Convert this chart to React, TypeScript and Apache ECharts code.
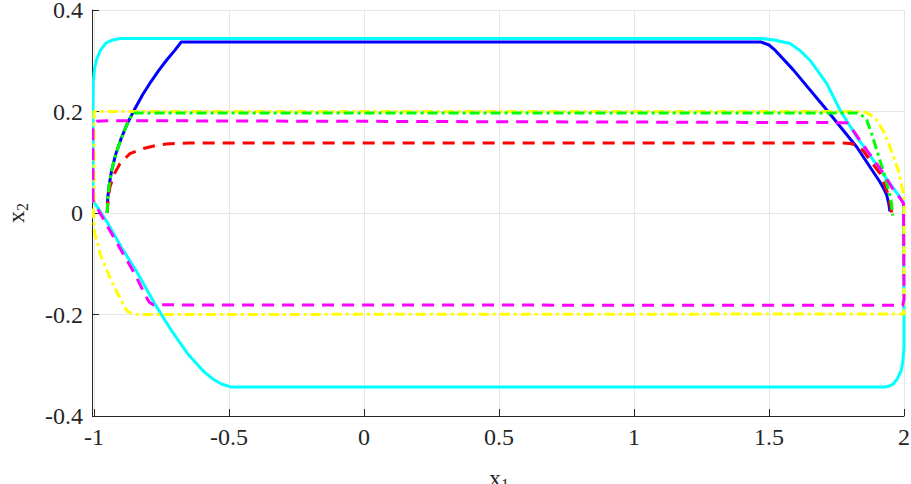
import React, { useEffect, useRef } from "react";
import * as echarts from "echarts";

const xTicks = [-1, -0.5, 0, 0.5, 1, 1.5, 2];
const yTicks = [-0.4, -0.2, 0, 0.2, 0.4];

const blueCurve: number[][] = [
  [-0.951, 0], [-0.949, 0.03], [-0.944, 0.054], [-0.935, 0.083], [-0.92, 0.115],
  [-0.9, 0.146], [-0.875, 0.178], [-0.85, 0.204], [-0.82, 0.233], [-0.79, 0.258],
  [-0.76, 0.281], [-0.73, 0.302], [-0.7, 0.321], [-0.677, 0.337], [1.47, 0.337],
  [1.5, 0.331], [1.52, 0.322], [1.59, 0.282], [1.714, 0.203], [1.825, 0.13],
  [1.911, 0.061], [1.925, 0.048], [1.936, 0.035], [1.943, 0.02], [1.948, 0.003],
];

const cyanCurve: number[][] = [
  [-1.004, 0.025], [-1.004, 0.2], [-1.003, 0.256], [-0.998, 0.285], [-0.99, 0.303],
  [-0.975, 0.322], [-0.955, 0.335], [-0.93, 0.341], [-0.904, 0.344], [1.467, 0.344],
  [1.52, 0.341], [1.578, 0.334], [1.615, 0.32], [1.652, 0.301], [1.714, 0.255],
  [1.763, 0.203], [1.825, 0.15], [1.886, 0.104], [1.948, 0.058], [1.998, 0.022],
  [2.0, -0.2], [2.0, -0.264], [1.995, -0.295], [1.99, -0.31], [1.975, -0.327],
  [1.96, -0.337], [1.94, -0.342], [1.923, -0.343], [-0.491, -0.343], [-0.528, -0.337],
  [-0.56, -0.327], [-0.59, -0.314], [-0.62, -0.297], [-0.652, -0.278], [-0.714, -0.231],
  [-0.775, -0.179], [-0.837, -0.12], [-0.899, -0.067], [-0.948, -0.021], [-1.004, 0.025],
];

const yellowCurve: number[][] = [
  [-1.0, 0.02], [-1.0, 0.2], [1.849, 0.2], [1.875, 0.194], [1.899, 0.183],
  [1.925, 0.16], [1.948, 0.13], [1.965, 0.105], [1.979, 0.084], [1.998, 0.038],
  [2.0, 0.019], [2.0, -0.199], [-0.849, -0.2], [-0.874, -0.195], [-0.89, -0.183],
  [-0.905, -0.166], [-0.925, -0.145], [-0.942, -0.126], [-0.973, -0.087], [-0.997, -0.041],
  [-1.004, 0.012],
];

const redCurve: number[][] = [
  [-0.951, 0], [-0.947, 0.03], [-0.941, 0.051], [-0.925, 0.077], [-0.904, 0.097],
  [-0.867, 0.117], [-0.817, 0.127], [-0.77, 0.133], [-0.731, 0.136], [-0.65, 0.138],
  [-0.607, 0.138], [1.763, 0.138], [1.8, 0.137], [1.825, 0.134], [1.85, 0.122],
  [1.874, 0.104], [1.911, 0.078], [1.936, 0.045], [1.948, 0.02], [1.955, 0],
];

const greenCurve: number[][] = [
  [-0.951, 0], [-0.949, 0.03], [-0.944, 0.054], [-0.935, 0.083], [-0.92, 0.115],
  [-0.9, 0.146], [-0.875, 0.178], [-0.856, 0.197], [1.825, 0.197], [1.845, 0.192],
  [1.862, 0.183], [1.88, 0.157], [1.899, 0.124], [1.93, 0.071], [1.945, 0.04],
  [1.954, 0.019], [1.958, -0.005],
];

const magentaCurve: number[][] = [
  [-1.004, 0.025], [-1.004, 0.165], [-0.998, 0.178], [-0.99, 0.181], [-0.95, 0.182],
  [1.788, 0.178], [1.81, 0.164], [1.837, 0.143], [1.87, 0.118], [1.899, 0.097],
  [1.93, 0.073], [1.954, 0.051], [1.978, 0.035], [1.998, 0.019], [2.0, -0.17],
  [1.995, -0.182], [-0.781, -0.181], [-0.795, -0.176], [-0.806, -0.166], [-0.849, -0.12],
  [-0.899, -0.074], [-0.948, -0.028], [-1.004, 0.025],
];

const FONT = "'Liberation Serif', 'Times New Roman', serif";

export default function App() {
  const ref = useRef<HTMLDivElement>(null);
  useEffect(() => {
    if (!ref.current) return;
    const chart = echarts.init(ref.current, undefined, { renderer: "svg" });
    const mk = (data: number[][], color: string, type: any, width = 3) => ({
      type: "line",
      data,
      showSymbol: false,
      symbol: "none",
      clip: false,
      lineStyle: { color, width, type, cap: "butt", join: "round" },
      silent: true,
    });
    const dashDot = [10, 4, 3, 4];
    const dashed = [12, 8];
    const rich = {
      a: { fontFamily: FONT, fontSize: 24, color: "#262626" },
      b: { fontFamily: FONT, fontSize: 16, color: "#262626", padding: [12, 0, 0, 0] },
    };
    chart.setOption({
      animation: false,
      backgroundColor: "#ffffff",
      textStyle: { fontFamily: FONT },
      grid: { left: 94, right: 7, top: 10, bottom: 68, outerBoundsMode: "none", containLabel: false },
      xAxis: {
        type: "value",
        min: xTicks[0],
        max: xTicks[xTicks.length - 1],
        interval: 0.5,
        name: "{a|x}{b|1}",
        nameLocation: "middle",
        nameGap: 48,
        nameTextStyle: { rich },
        axisLine: { show: true, onZero: false, lineStyle: { color: "#262626", width: 1 } },
        axisTick: { show: true, inside: true, length: 7, lineStyle: { color: "#262626" } },
        axisLabel: {
          fontFamily: FONT,
          fontSize: 24,
          color: "#262626",
          margin: 9,
          formatter: (v: number) => String(v),
        },
        splitLine: { show: true, lineStyle: { color: "#e6e6e6", width: 1 } },
      },
      yAxis: {
        type: "value",
        min: yTicks[0],
        max: yTicks[yTicks.length - 1],
        interval: 0.2,
        offset: 2,
        name: "{a|x}{b|2}",
        nameLocation: "middle",
        nameGap: 62,
        nameRotate: 90,
        nameTextStyle: { rich },
        axisLine: { show: true, onZero: false, lineStyle: { color: "#262626", width: 1 } },
        axisTick: { show: true, inside: true, length: 7, lineStyle: { color: "#262626" } },
        axisLabel: {
          fontFamily: FONT,
          fontSize: 24,
          color: "#262626",
          margin: 9,
          formatter: (v: number) => String(Math.round(v * 10) / 10),
        },
        splitLine: { show: true, lineStyle: { color: "#e6e6e6", width: 1 } },
      },
      series: [
        mk(blueCurve, "#0000ff", "solid"),
        mk(cyanCurve, "#00ffff", "solid"),
        mk(yellowCurve, "#ffff00", dashDot),
        mk(redCurve, "#ff0000", dashed),
        mk(greenCurve, "#00ff00", dashDot),
        mk(magentaCurve, "#ff00ff", dashed),
      ],
    });
    return () => chart.dispose();
  }, []);
  return <div ref={ref} style={{ width: 911, height: 484, position: "absolute", left: 0, top: 0 }} />;
}
